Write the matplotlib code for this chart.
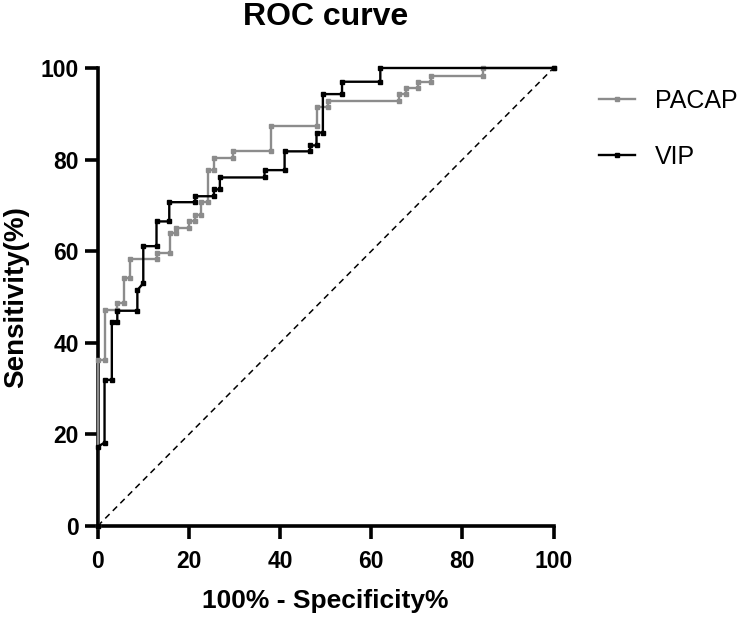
import matplotlib
matplotlib.use('Agg')
import matplotlib.pyplot as plt

plt.rcParams['font.family'] = ['Liberation Sans', 'DejaVu Sans']

# ROC points (100% - specificity, sensitivity)
pacap_x = [0, 0, 1.5, 1.5, 4.3, 4.3, 5.8, 5.8, 7.1, 7.1, 12.9, 12.9, 15.8, 15.8,
           17.1, 17.1, 20, 20, 21.3, 21.3, 22.6, 22.6, 24.1, 24.1, 25.5, 25.5,
           29.6, 29.6, 38, 38, 48, 48, 50.5, 50.5, 66.2, 66.2, 67.6, 67.6,
           70.3, 70.3, 73.1, 73.1, 84.5, 84.5, 100]
pacap_y = [0, 36.2, 36.2, 47.2, 47.2, 48.6, 48.6, 54.1, 54.1, 58.2, 58.2, 59.7,
           59.7, 63.9, 63.9, 65, 65, 66.6, 66.6, 67.9, 67.9, 70.8, 70.8, 77.7,
           77.7, 80.4, 80.4, 81.9, 81.9, 87.3, 87.3, 91.4, 91.4, 92.8, 92.8,
           94.3, 94.3, 95.6, 95.6, 97, 97, 98.3, 98.3, 100, 100]

vip_x = [0, 0, 1.5, 1.5, 3.1, 3.1, 4.3, 4.3, 8.7, 8.7, 10, 10, 12.9, 12.9,
         15.7, 15.7, 21.4, 21.4, 25.5, 25.5, 26.8, 26.8, 36.6, 36.6, 41, 41,
         46.6, 46.6, 48, 48, 49.4, 49.4, 53.6, 53.6, 62, 62, 100]
vip_y = [0, 17.3, 18.2, 31.9, 31.9, 44.6, 44.6, 47.0, 47.0, 51.5, 53, 61.1,
         61.1, 66.5, 66.5, 70.7, 70.7, 72.0, 72.0, 73.5, 73.5, 76.1, 76.1,
         77.7, 77.7, 81.8, 81.8, 83.1, 83.1, 85.9, 85.9, 94.3, 94.3, 97, 97,
         100, 100]

chance = [0, 100]
ticks = [0, 20, 40, 60, 80, 100]

fig = plt.figure(figsize=(7.43, 6.17), dpi=100)
ax = fig.add_axes([0.1315, 0.1475, 0.6135, 0.7423])

ax.plot(pacap_x, pacap_y, color='#8c8c8c', lw=1.7, marker='s', ms=2.6,
        label='PACAP', clip_on=False, zorder=3)
ax.plot(vip_x, vip_y, color='black', lw=1.7, marker='s', ms=2.6,
        label='VIP', clip_on=False, zorder=4)
ax.plot(chance, chance, color='black', lw=1.1, ls=(0, (4, 3)), zorder=2)

ax.set_xlim(0, 100)
ax.set_ylim(0, 100)
ax.set_xticks(ticks)
ax.set_yticks(ticks)
for s in ['top', 'right']:
    ax.spines[s].set_visible(False)
for s in ['left', 'bottom']:
    ax.spines[s].set_linewidth(2.6)
ax.tick_params(width=2.6, length=9.5, labelsize=16.5)
ax.tick_params(axis='x', pad=8)
ax.tick_params(axis='y', pad=4)
for lab in ax.get_xticklabels() + ax.get_yticklabels():
    lab.set_fontweight('bold')

ax.set_title('ROC curve', fontsize=23, fontweight='bold', pad=31)
ax.set_xlabel('100% - Specificity%', fontsize=19, fontweight='bold', labelpad=11)
ax.set_ylabel('Sensitivity(%)', fontsize=20, fontweight='bold', labelpad=8)

ax.legend(frameon=False, loc='upper left', bbox_to_anchor=(1.1, 0.955),
          fontsize=18, handlelength=1.45, handletextpad=0.8, labelspacing=1.3,
          borderpad=0, borderaxespad=0, numpoints=1)

plt.savefig('out.png', dpi=100)
